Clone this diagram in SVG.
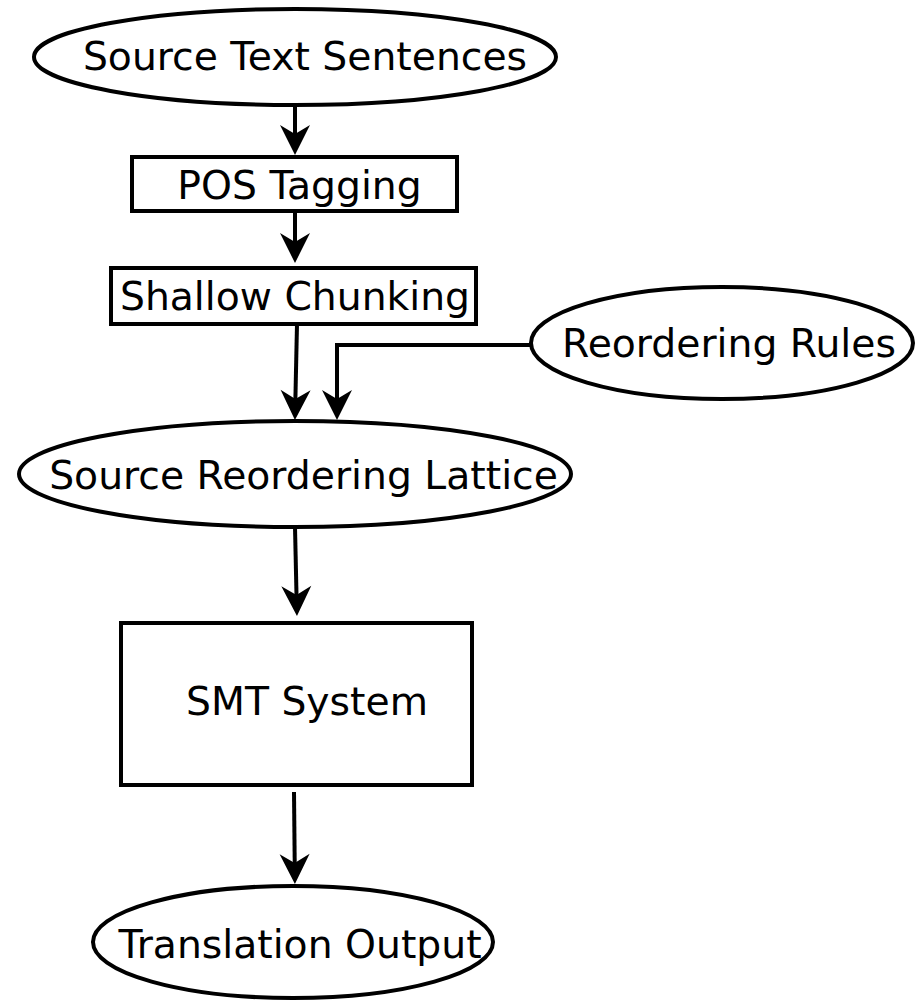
<svg xmlns="http://www.w3.org/2000/svg" width="915" height="1001" viewBox="0 0 915 1001">
<defs>
<marker id="ah" viewBox="-34 -17 36 34" markerWidth="36" markerHeight="34" refX="-12" refY="0" orient="auto" markerUnits="userSpaceOnUse">
<path d="M0,0 L-30,-15 L-21,0 L-30,15 Z" fill="#000"/>
</marker>
</defs>
<style>
.shape{fill:#fff;stroke:#000;stroke-width:4}
.lbl{font-family:"DejaVu Sans",sans-serif;font-size:39.3px;fill:#000;text-anchor:middle}
.edge{fill:none;stroke:#000;stroke-width:4}
</style>
<rect width="915" height="1001" fill="#fff"/>
<g id="connectors">
<line class="edge" x1="295" y1="105" x2="295" y2="143" marker-end="url(#ah)"/>
<line class="edge" x1="295" y1="211" x2="295" y2="251" marker-end="url(#ah)"/>
<line class="edge" x1="297" y1="324" x2="295.2" y2="408" marker-end="url(#ah)"/>
<polyline class="edge" points="531,345 337,345 337,408" marker-end="url(#ah)"/>
<line class="edge" x1="295" y1="527" x2="296.7" y2="604" marker-end="url(#ah)"/>
<line class="edge" x1="294" y1="792" x2="294.8" y2="872" marker-end="url(#ah)"/>
</g>
<g id="source-text-sentences">
<ellipse class="shape" cx="295" cy="57" rx="261" ry="48"/>
<text class="lbl" x="305" y="70">Source Text Sentences</text>
</g>
<g id="pos-tagging">
<rect class="shape" x="132" y="157" width="325" height="54"/>
<text class="lbl" x="299.5" y="199">POS Tagging</text>
</g>
<g id="shallow-chunking">
<rect class="shape" x="111" y="268" width="365" height="56"/>
<text class="lbl" x="295" y="310">Shallow Chunking</text>
</g>
<g id="reordering-rules">
<ellipse class="shape" cx="722" cy="343" rx="191" ry="56"/>
<text class="lbl" x="729" y="357">Reordering Rules</text>
</g>
<g id="source-reordering-lattice">
<ellipse class="shape" cx="295" cy="474" rx="276" ry="53"/>
<text class="lbl" x="303.5" y="489">Source Reordering Lattice</text>
</g>
<g id="smt-system">
<rect class="shape" x="121" y="623" width="351" height="162"/>
<text class="lbl" x="307" y="715">SMT System</text>
</g>
<g id="translation-output">
<ellipse class="shape" cx="293" cy="942" rx="200" ry="56"/>
<text class="lbl" x="300" y="958">Translation Output</text>
</g>
</svg>
